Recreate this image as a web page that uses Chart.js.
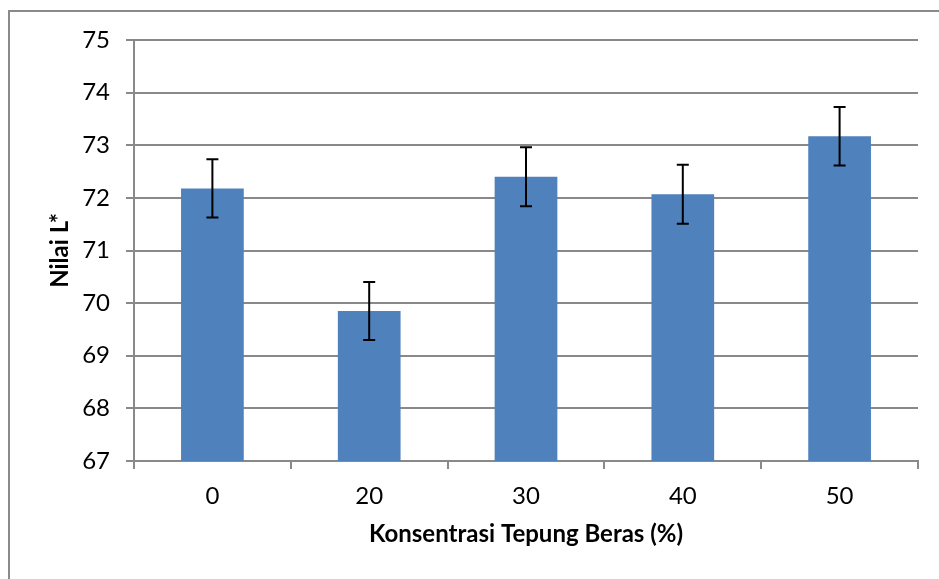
<!DOCTYPE html>
<html>
<head>
<meta charset="utf-8">
<title>Nilai L*</title>
<style>
  body { margin: 0; background: #fff; }
</style>
</head>
<body>
<canvas id="chart" width="939" height="579"></canvas>
<script src="https://cdn.jsdelivr.net/npm/chart.js@4.4.1/dist/chart.umd.min.js"></script>
<script>
// data
const kategori = ['0', '20', '30', '40', '50'];
const nilaiL = [72.18, 69.85, 72.40, 72.07, 73.17];
const galat = [0.555, 0.55, 0.56, 0.56, 0.555];

const abu = '#898989';

// garis galat (error bar) di atas tiap batang
const errorBars = {
  id: 'errorBars',
  afterDatasetsDraw(chart) {
    const ctx = chart.ctx;
    const y = chart.scales.y;
    const meta = chart.getDatasetMeta(0);
    ctx.save();
    ctx.strokeStyle = '#000';
    ctx.lineWidth = 2;
    meta.data.forEach((bar, i) => {
      const x = bar.x;
      const top = y.getPixelForValue(nilaiL[i] + galat[i]);
      const bot = y.getPixelForValue(nilaiL[i] - galat[i]);
      ctx.beginPath();
      ctx.moveTo(x, top); ctx.lineTo(x, bot);
      ctx.moveTo(x - 6, top); ctx.lineTo(x + 6, top);
      ctx.moveTo(x - 6, bot); ctx.lineTo(x + 6, bot);
      ctx.stroke();
    });
    ctx.restore();
  }
};

// bingkai luar
const frame = {
  id: 'frame',
  afterDraw(chart) {
    const ctx = chart.ctx;
    ctx.save();
    ctx.strokeStyle = '#8a8a8a';
    ctx.lineWidth = 2;
    ctx.strokeRect(9, 11, 1000, 1000);
    ctx.restore();
  }
};

new Chart(document.getElementById('chart'), {
  type: 'bar',
  data: {
    labels: kategori,
    datasets: [{
      data: nilaiL,
      backgroundColor: '#4F81BD',
      barPercentage: 0.4,
      categoryPercentage: 1
    }]
  },
  options: {
    responsive: false,
    animation: false,
    layout: { padding: { top: 40, right: 21, left: 0, bottom: 0 } },
    plugins: { legend: { display: false }, tooltip: { enabled: false } },
    scales: {
      x: {
        afterFit(s) { s.height = 118; },
        grid: { offset: true, drawOnChartArea: false, drawTicks: true, tickLength: 8, color: abu, lineWidth: 2 },
        border: { color: abu, width: 2 },
        ticks: { color: '#000', padding: 13, font: { family: 'Lato', size: 24 } },
        title: {
          display: true,
          text: 'Konsentrasi Tepung Beras (%)',
          color: '#000',
          font: { family: 'Lato', size: 24, weight: 'bold' },
          padding: { top: 0, bottom: 30 }
        }
      },
      y: {
        min: 67,
        max: 75,
        afterFit(s) { s.width = 134; },
        grid: { color: abu, lineWidth: 2, tickLength: 8 },
        border: { color: abu, width: 2 },
        ticks: { stepSize: 1, color: '#000', padding: 16, font: { family: 'Lato', size: 24 } },
        title: {
          display: true,
          text: 'Nilai L*',
          color: '#000',
          font: { family: 'Lato', size: 24, weight: 'bold' },
          padding: { top: 46, bottom: 0 }
        }
      }
    }
  },
  plugins: [errorBars, frame]
});
</script>
</body>
</html>
